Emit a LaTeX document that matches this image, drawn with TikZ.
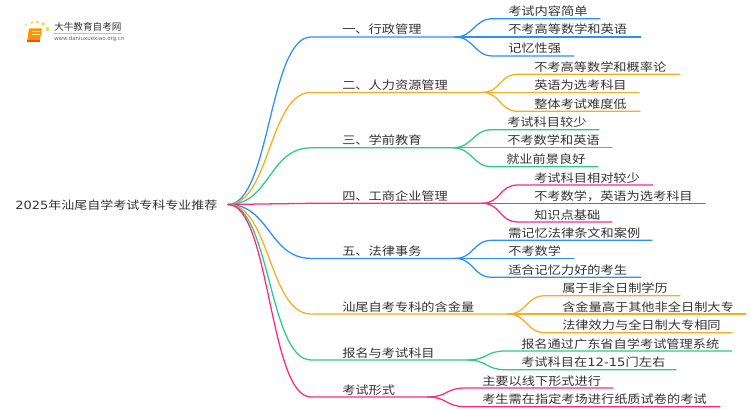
\documentclass[tikz,border=0pt]{standalone}
\usepackage{fontspec}
\setmainfont{Noto Sans CJK SC}
\newfontfamily\latf{DejaVu Sans}
\definecolor{cblue}{HTML}{2B90FB}
\definecolor{corange}{HTML}{FBAB1E}
\definecolor{cgreen}{HTML}{2BCB87}
\definecolor{cpink}{HTML}{FF2A7F}
\definecolor{ctext}{HTML}{333333}
\tikzset{
  lab/.style={anchor=base west,inner sep=0pt,text=ctext,yscale=0.87,transform shape,font=\fontsize{9.9pt}{11pt}\selectfont},
  conn/.style={line width=0.95pt,line cap=round}
}
\newcommand{\mainb}[5]{%
  \coordinate (#1s) at (311,-#3);
  \coordinate (#1e) at (#4,-#3);
  \node[lab] (#1t) at (342,-#3+3) {#5};
  \draw[conn,#2] (r) .. controls ($(r)+(42,0)$) and ($(#1s)+(-42,0)$) .. (#1s) -- (#1e);
}
\newcommand{\leafb}[8]{%
  \coordinate (#2s) at (#5,-#4);
  \coordinate (#2e) at (#6,-#4);
  \node[lab] (#2t) at (#7,-#4+3) {#8};
  \draw[conn,#3] (#1e) .. controls ($(#1e)+(19,0)$) and ($(#2s)+(-19,0)$) .. (#2s) -- (#2e);
}
\usetikzlibrary{calc}
\begin{document}
\begin{tikzpicture}[x=0.75pt,y=0.75pt]
\useasboundingbox (0,0) rectangle (750,-410);
\coordinate (r) at (228,-204.5);
\node[lab,font=\fontsize{9.75pt}{11pt}\selectfont] (root) at (15,-209) {{\latf 2025}年汕尾自学考试专科专业推荐};

\mainb{a}{cblue}{37}{455}{一、行政管理}
\leafb{a}{a1}{cblue}{18.7}{493}{600}{508}{考试内容简单}
\leafb{a}{a2}{cblue}{37}{493}{640.7}{508}{不考高等数学和英语}
\leafb{a}{a3}{cblue}{56}{493}{574}{508}{记忆性强}

\mainb{b}{corange}{92.4}{482}{二、人力资源管理}
\leafb{b}{b1}{corange}{74.3}{518}{680}{534}{不考高等数学和概率论}
\leafb{b}{b2}{corange}{92.4}{518}{639}{534}{英语为选考科目}
\leafb{b}{b3}{corange}{111.3}{518}{640}{534}{整体考试难度低}

\mainb{c}{cgreen}{147.8}{453}{三、学前教育}
\leafb{c}{c1}{cgreen}{129.7}{492}{599}{507}{考试科目较少}
\leafb{c}{c2}{cgreen}{147.8}{492}{612}{507}{不考数学和英语}
\leafb{c}{c3}{cgreen}{166.7}{492}{598}{506}{就业前景良好}

\mainb{d}{cpink}{203.3}{482}{四、工商企业管理}
\leafb{d}{d1}{cpink}{185}{518}{653}{534}{考试科目相对较少}
\leafb{d}{d2}{cpink}{203.3}{518}{705}{534}{不考数学，英语为选考科目}
\leafb{d}{d3}{cpink}{222}{518}{612}{534}{知识点基础}

\mainb{e}{cblue}{258.4}{455}{五、法律事务}
\leafb{e}{e1}{cblue}{240.3}{492}{652}{508}{需记忆法律条文和案例}
\leafb{e}{e2}{cblue}{258.4}{492}{574}{508}{不考数学}
\leafb{e}{e3}{cblue}{277.3}{492}{640.7}{508}{适合记忆力好的考生}

\mainb{f}{corange}{314}{508}{汕尾自考专科的含金量}
\leafb{f}{f1}{corange}{295.7}{545}{680}{562}{属于非全日制学历}
\leafb{f}{f2}{corange}{314}{545}{745.7}{562}{含金量高于其他非全日制大专}
\leafb{f}{f3}{corange}{332.7}{545}{732}{562}{法律效力与全日制大专相同}

\mainb{g}{cgreen}{360}{468}{报名与考试科目}
\leafb{g}{g1}{cgreen}{351}{505}{731.7}{521}{报名通过广东省自学考试管理系统}
\leafb{g}{g2}{cgreen}{369.7}{505}{676}{521}{考试科目在{\latf 12-15}门左右}

\mainb{h}{cpink}{397}{428}{考试形式}
\leafb{h}{h1}{cpink}{388}{465}{613}{482}{主要以线下形式进行}
\leafb{h}{h2}{cpink}{406.7}{465}{720}{482}{考生需在指定考场进行纸质试卷的考试}

% logo
\fill[orange!85!yellow,rounded corners=0.6pt] (29,-28.5) -- (42,-28.5) -- (39.5,-42) -- (27,-42) -- cycle;
\fill[orange!60!red] (27,-40.5) -- (39.5,-40.5) -- (39.5,-42) -- (27,-42) -- cycle;
\draw[white!85!orange,line width=0.5pt] (32,-31.5) -- (40,-31.5) (31.5,-34) -- (39.5,-34);
\foreach \px/\py/\pr/\pc in {22/30/1.2/30,26/25/1.4/60,32/22.5/1.6/70,37.5/22/1.7/80,43/24/1.8/80,47.5/29/2/80,22/37/1/30,23.5/42.5/0.8/20}{
  \fill[yellow!65!orange,opacity=0.\pc] (\px,-\py) circle[radius=\pr];
}
\node[anchor=base west,inner sep=0pt,text=ctext,font=\fontsize{7.2pt}{8pt}\selectfont] (logot) at (54,-30.5) {大牛教育自考网};
\draw[black!25,line width=0.3pt] (54,-33.5) -- (122,-33.5);
\node[anchor=base west,inner sep=0pt,text=black!60,font=\fontsize{4.1pt}{5pt}\latf] (logou) at (54,-40.5) {www.daniuxuexiao.org.cn};
\end{tikzpicture}
\end{document}
